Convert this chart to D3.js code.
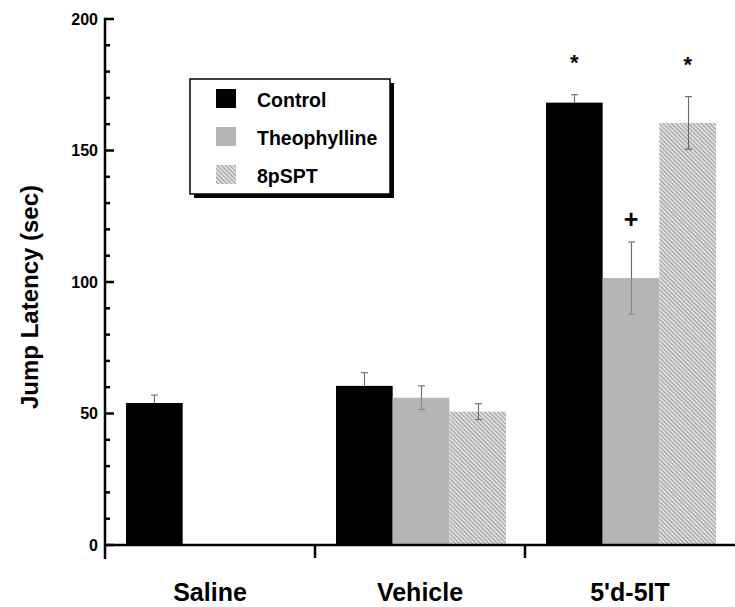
<!DOCTYPE html>
<html>
<head>
<meta charset="utf-8">
<script src="https://cdn.jsdelivr.net/npm/d3@7/dist/d3.min.js"></script>
<style>
  html, body { margin: 0; padding: 0; background: #fff; }
  svg { display: block; }
  text { font-family: "Liberation Sans", Arial, Helvetica, sans-serif; font-weight: bold; fill: #000; }
</style>
</head>
<body>
<svg id="chart" width="735" height="607"></svg>
<script>
// Groups along the x axis and treatment series within each group
const categories = ["Saline", "Vehicle", "5'd-5IT"];
const series = ["Control", "Theophylline", "8pSPT"];

// Mean jump latency (sec) per group, one array per series (null = not tested)
const controlMeans      = [54.0, 60.5, 168.2];
const theophyllineMeans = [null, 56.0, 101.5];
const pSPTMeans         = [null, 50.7, 160.5];

// Standard error of each mean
const controlSEM      = [3.0, 5.0, 3.0];
const theophyllineSEM = [null, 4.5, 13.7];
const pSPTSEM         = [null, 3.0, 10.0];

// Significance marks above individual bars
const marks = [
  { category: "5'd-5IT", series: "Control", symbol: "*" },
  { category: "5'd-5IT", series: "Theophylline", symbol: "+" },
  { category: "5'd-5IT", series: "8pSPT", symbol: "*" }
];

// Axis ticks
const yMajorTicks = [0, 50, 100, 150, 200];
const yMinorTicks = d3.range(0, 201, 10);

const meansBySeries = { "Control": controlMeans, "Theophylline": theophyllineMeans, "8pSPT": pSPTMeans };
const semBySeries = { "Control": controlSEM, "Theophylline": theophyllineSEM, "8pSPT": pSPTSEM };

const rows = [];
categories.forEach((c, i) => {
  series.forEach(s => {
    const v = meansBySeries[s][i];
    if (v != null) rows.push({ category: c, series: s, value: v, sem: semBySeries[s][i] });
  });
});

const svg = d3.select("#chart");

// Fill patterns
const defs = svg.append("defs");
const hatch = defs.append("pattern")
  .attr("id", "hatch")
  .attr("patternUnits", "userSpaceOnUse")
  .attr("width", 3).attr("height", 3)
  .attr("patternTransform", "rotate(-45)");
hatch.append("rect").attr("width", 3).attr("height", 3).attr("fill", "#e6e6e6");
hatch.append("line").attr("x1", 0.6).attr("y1", 0).attr("x2", 0.6).attr("y2", 3)
  .attr("stroke", "#9c9c9c").attr("stroke-width", 1.2);

const fills = { "Control": "#000", "Theophylline": "#b5b5b5", "8pSPT": "url(#hatch)" };
const innerErrColor = { "Control": "none", "Theophylline": "#8a8a8a", "8pSPT": "#666" };

// Scales
const x0 = d3.scaleBand().domain(categories).range([105, 735]).paddingInner(0).paddingOuter(0);
const x1 = d3.scaleBand().domain(series).range([21, 191]);
const y = d3.scaleLinear().domain([0, 200]).range([545, 19]);

// Bars
const bars = svg.append("g");
bars.selectAll("rect").data(rows).join("rect")
  .attr("x", d => x0(d.category) + x1(d.series))
  .attr("y", d => y(d.value))
  .attr("width", x1.bandwidth())
  .attr("height", d => y(0) - y(d.value))
  .attr("fill", d => fills[d.series]);

// Error bars: upper whisker above the bar, lower whisker inside it
const eb = svg.append("g").attr("stroke-width", 1.1).attr("fill", "none");
const cx = d => x0(d.category) + x1(d.series) + x1.bandwidth() / 2;
const capHalf = 3.5;
rows.forEach(d => {
  const xc = Math.round(cx(d)) + 0.5;
  const top = y(d.value + d.sem), mid = y(d.value), bot = y(d.value - d.sem);
  eb.append("line").attr("x1", xc).attr("x2", xc).attr("y1", top).attr("y2", mid).attr("stroke", "#6a6a6a");
  eb.append("line").attr("x1", xc - capHalf).attr("x2", xc + capHalf).attr("y1", top).attr("y2", top).attr("stroke", "#6a6a6a");
  const inner = innerErrColor[d.series];
  eb.append("line").attr("x1", xc).attr("x2", xc).attr("y1", mid).attr("y2", bot).attr("stroke", inner);
  eb.append("line").attr("x1", xc - capHalf).attr("x2", xc + capHalf).attr("y1", bot).attr("y2", bot).attr("stroke", inner);
});

// Significance marks
const markG = svg.append("g");
marks.forEach(m => {
  const d = rows.find(r => r.category === m.category && r.series === m.series);
  const top = y(d.value + d.sem);
  const isStar = m.symbol === "*";
  markG.append("text")
    .attr("x", cx(d))
    .attr("y", isStar ? top - 25 : top - 14)
    .attr("text-anchor", "middle")
    .attr("font-size", isStar ? 22 : 25)
    .text(m.symbol);
});

// Y axis: ticks point inward, major every 50 with labels
const yAxisG = svg.append("g").attr("stroke", "#000").attr("stroke-width", 2.5);
yAxisG.append("line").attr("x1", 105).attr("x2", 105).attr("y1", y(200) - 1.2).attr("y2", 559);
yAxisG.selectAll("line.tick").data(yMinorTicks).join("line")
  .attr("class", "tick")
  .attr("x1", 105)
  .attr("x2", d => yMajorTicks.includes(d) ? 114 : 110)
  .attr("y1", d => y(d)).attr("y2", d => y(d));
svg.append("g").selectAll("text").data(yMajorTicks).join("text")
  .attr("x", 98)
  .attr("y", d => y(d))
  .attr("dy", "0.36em")
  .attr("text-anchor", "end")
  .attr("font-size", 16)
  .text(d => d3.format("d")(d));

// X axis: baseline with ticks between groups
const xAxisG = svg.append("g").attr("stroke", "#000").attr("stroke-width", 2.5);
xAxisG.append("line").attr("x1", 105).attr("x2", 735).attr("y1", 545).attr("y2", 545);
xAxisG.selectAll("line.tick").data(categories.slice(1)).join("line")
  .attr("class", "tick")
  .attr("x1", d => x0(d)).attr("x2", d => x0(d))
  .attr("y1", 545).attr("y2", 558);
svg.append("g").selectAll("text").data(categories).join("text")
  .attr("x", d => x0(d) + x0.bandwidth() / 2)
  .attr("y", 601)
  .attr("text-anchor", "middle")
  .attr("font-size", 25)
  .text(d => d);

// Y axis title
svg.append("text")
  .attr("transform", "translate(38,297) rotate(-90)")
  .attr("text-anchor", "middle")
  .attr("font-size", 24)
  .text("Jump Latency (sec)");

// Legend with drop shadow
const lg = svg.append("g");
const lx = 190, ly = 79, lw = 200, lh = 115;
lg.append("rect").attr("x", lx + 4).attr("y", ly + 4).attr("width", lw).attr("height", lh).attr("fill", "#000");
lg.append("rect").attr("x", lx).attr("y", ly).attr("width", lw).attr("height", lh)
  .attr("fill", "#fff").attr("stroke", "#000").attr("stroke-width", 1.5);
const legendRow = d3.scalePoint().domain(series).range([ly + 20, ly + 96]);
series.forEach(s => {
  lg.append("rect").attr("x", 216).attr("y", legendRow(s) - 10).attr("width", 20).attr("height", 19).attr("fill", fills[s]);
  lg.append("text").attr("x", 257).attr("y", legendRow(s) + 8).attr("font-size", 19.5).text(s);
});
</script>
</body>
</html>
